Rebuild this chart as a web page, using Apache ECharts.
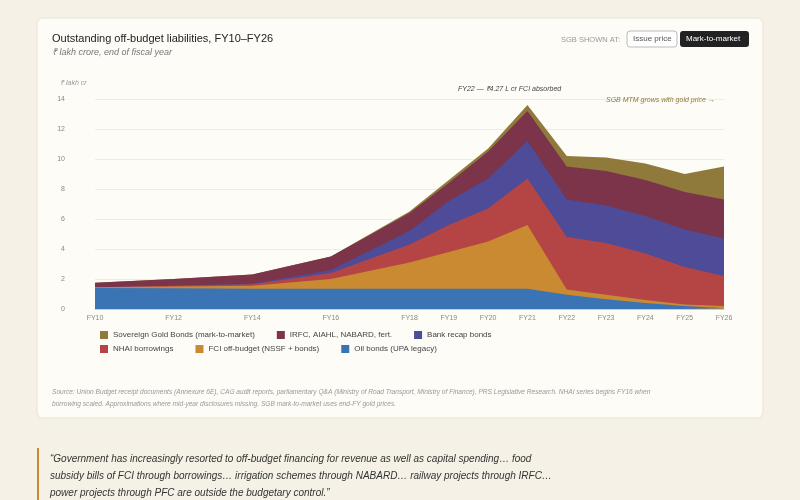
<!DOCTYPE html>
<html>
<head>
<meta charset="utf-8">
<script src="https://cdn.jsdelivr.net/npm/echarts@6/dist/echarts.min.js"></script>
<style>
  body { margin: 0; background: #f5f1e6; font-family: Inter, "Noto Sans", sans-serif; }
  #chart { width: 800px; height: 500px; }
</style>
</head>
<body>
<div id="chart"></div>
<script>
var years = [10, 12, 14, 16, 18, 19, 20, 21, 22, 23, 24, 25, 26];
var oilBonds = [1.4, 1.38, 1.35, 1.35, 1.35, 1.35, 1.35, 1.35, 0.95, 0.65, 0.4, 0.2, 0.05];
var fciOffBudget = [0.05, 0.12, 0.2, 0.65, 1.75, 2.45, 3.15, 4.25, 0.35, 0.3, 0.2, 0.1, 0.15];
var nhai = [0, 0.05, 0.1, 0.4, 1.2, 1.8, 2.2, 3.1, 3.5, 3.45, 3.1, 2.5, 2.0];
var bankRecap = [0, 0, 0.05, 0.2, 0.9, 1.6, 2.0, 2.5, 2.5, 2.5, 2.5, 2.5, 2.5];
var irfcEtc = [0.3, 0.45, 0.6, 0.9, 1.2, 1.2, 1.8, 2.0, 2.2, 2.3, 2.4, 2.5, 2.6];
var sgbMtm = [0, 0, 0, 0, 0.1, 0.2, 0.2, 0.4, 0.7, 0.9, 1.1, 1.2, 2.2];

var seriesDefs = [
  ['Oil bonds (UPA legacy)', oilBonds, '#3a74b4'],
  ['FCI off-budget (NSSF + bonds)', fciOffBudget, '#c98a32'],
  ['NHAI borrowings', nhai, '#b54545'],
  ['Bank recap bonds', bankRecap, '#4e4b98'],
  ['IRFC, AIAHL, NABARD, fert.', irfcEtc, '#7b3449'],
  ['Sovereign Gold Bonds (mark-to-market)', sgbMtm, '#8f7a3c']
];

// running totals so each layer sits on the ones below it
var running = years.map(function () { return 0; });
var series = seriesDefs.map(function (d, i) {
  running = running.map(function (v, j) { return v + d[1][j]; });
  var s = {
    name: d[0], type: 'line', symbol: 'none',
    z: 10 - i,
    lineStyle: { width: 0 },
    areaStyle: { color: d[2], opacity: 1 },
    itemStyle: { color: d[2] },
    data: years.map(function (y, j) { return [y, +running[j].toFixed(3)]; })
  };
  if (i === 0) {
    s.markLine = {
      silent: true, symbol: 'none',
      lineStyle: { color: '#999', type: [2, 3], width: 1 },
      label: { show: false },
      data: [[{ coord: [22, 0] }, { coord: [22, 15.1] }]]
    };
    s.z = 20;
  }
  return s;
});
series.reverse();

var chart = echarts.init(document.getElementById('chart'));
var muted = '#8a8a84';

chart.setOption({
  backgroundColor: '#f5f1e6',
  graphic: [
    { type: 'rect', shape: { x: 37, y: 18, width: 726, height: 400, r: 6 },
      style: { fill: '#fdfcf6', stroke: '#e8e3d4' }, z: -10 },
    { type: 'text', left: 52, top: 33, z: 100, style: { text: 'Outstanding off-budget liabilities, FY10\u2013FY26', fontSize: 11, fill: '#222', fontWeight: 500 } },
    { type: 'text', left: 52, top: 48, z: 100, style: { text: '\u20b9 lakh crore, end of fiscal year', fontSize: 9, fontStyle: 'italic', fill: '#777' } },
    { type: 'text', left: 561, top: 36, z: 100, style: { text: 'SGB SHOWN AT:', fontSize: 7.5, fill: '#999' } },
    { type: 'rect', z: 100, shape: { x: 627, y: 31, width: 50, height: 16, r: 3 }, style: { fill: '#fff', stroke: '#bbb' } },
    { type: 'text', left: 633, top: 35, z: 101, style: { text: 'Issue price', fontSize: 8, fill: '#555' } },
    { type: 'rect', z: 100, shape: { x: 680, y: 31, width: 69, height: 16, r: 3 }, style: { fill: '#222' } },
    { type: 'text', left: 686, top: 35, z: 101, style: { text: 'Mark-to-market', fontSize: 8, fill: '#fff' } },
    { type: 'text', left: 60, top: 80, z: 100, style: { text: '\u20b9 lakh cr', fontSize: 7, fontStyle: 'italic', fill: '#999' } },
    { type: 'text', left: 458, top: 86, z: 100, style: { text: 'FY22 \u2014 \u20b94.27 L cr FCI absorbed', fontSize: 7, fontStyle: 'italic', fill: '#444' } },
    { type: 'text', left: 606, top: 97, z: 100, style: { text: 'SGB MTM grows with gold price \u2192', fontSize: 7, fontStyle: 'italic', fill: '#8f7a3c' } },
    { type: 'text', left: 52, top: 386, z: 100, style: { text: 'Source: Union Budget receipt documents (Annexure 6E), CAG audit reports, parliamentary Q&A (Ministry of Road Transport, Ministry of Finance), PRS Legislative Research. NHAI series begins FY16 when\nborrowing scaled. Approximations where mid-year disclosures missing. SGB mark-to-market uses end-FY gold prices.', fontSize: 6.6, fontStyle: 'italic', fill: '#999', lineHeight: 12 } },
    { type: 'rect', shape: { x: 37, y: 448, width: 2, height: 52 }, style: { fill: '#c98a32' } },
    { type: 'text', left: 50, top: 451, style: { text: '\u201cGovernment has increasingly resorted to off-budget financing for revenue as well as capital spending\u2026 food\nsubsidy bills of FCI through borrowings\u2026 irrigation schemes through NABARD\u2026 railway projects through IRFC\u2026\npower projects through PFC are outside the budgetary control.\u201d', fontSize: 10, fontStyle: 'italic', fill: '#333', lineHeight: 17 } }
  ],
  grid: { left: 95, right: 76, top: 99, bottom: 191 },
  legend: [
    { left: 95, top: 326, itemWidth: 8, itemHeight: 8, itemGap: 22, icon: 'rect',
      textStyle: { fontSize: 8, color: '#444' },
      data: ['Sovereign Gold Bonds (mark-to-market)', 'IRFC, AIAHL, NABARD, fert.', 'Bank recap bonds'] },
    { left: 95, top: 340, itemWidth: 8, itemHeight: 8, itemGap: 22, icon: 'rect',
      textStyle: { fontSize: 8, color: '#444' },
      data: ['NHAI borrowings', 'FCI off-budget (NSSF + bonds)', 'Oil bonds (UPA legacy)'] }
  ],
  xAxis: {
    type: 'value', min: 10, max: 26, interval: 1,
    axisLine: { show: true, lineStyle: { color: '#ccc' } },
    axisTick: { show: false },
    splitLine: { show: false },
    axisLabel: {
      fontSize: 7, color: muted, margin: 6,
      formatter: function (v) { return years.indexOf(v) >= 0 ? 'FY' + v : ''; }
    }
  },
  yAxis: {
    type: 'value', min: 0, max: 14, interval: 2,
    axisLine: { show: false }, axisTick: { show: false },
    axisLabel: { fontSize: 7, color: muted, margin: 30 },
    splitLine: { lineStyle: { color: '#efece3' } }
  },
  series: series
});
</script>
</body>
</html>
